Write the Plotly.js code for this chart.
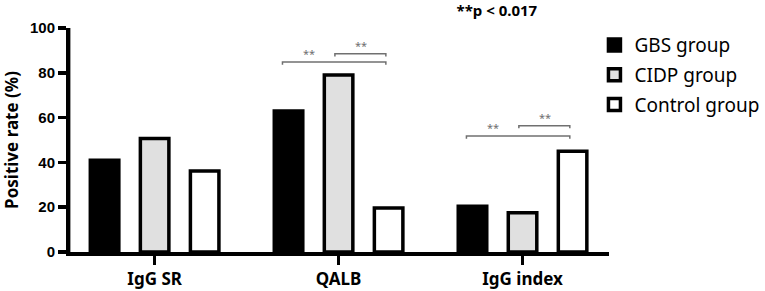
<!DOCTYPE html>
<html>
<head>
<meta charset="utf-8">
<script src="https://cdn.plot.ly/plotly-3.0.1.min.js"></script>
<style>
  html, body { margin: 0; padding: 0; background: #ffffff; }
  #chart { width: 765px; height: 291px; }
</style>
</head>
<body>
<div id="chart"></div>
<script>
// ---- data ----
const categories = ['IgG SR', 'QALB', 'IgG index'];
const seriesNames = ['GBS group', 'CIDP group', 'Control group'];
const gbsValues = [41, 63, 20.4];
const cidpValues = [50.7, 79, 17.5];
const controlValues = [36.2, 19.6, 45];
const yTickValues = [0, 20, 40, 60, 80, 100];
const yTickLabels = ['0', '20', '40', '60', '80', '100'];
const pNote = '**p &lt; 0.017';
// significance comparisons: category, level (y in %), label
const sigCategory = ['QALB', 'QALB', 'IgG index', 'IgG index'];
const sigLevel = [84.8, 88.5, 51.8, 56.4];
const sigLabel = ['**', '**', '**', '**'];
const sigKind = ['long', 'short', 'long', 'short'];

// ---- styles ----
const fillColors = ['#000000', '#e0e0e0', '#ffffff'];
const seriesValues = [gbsValues, cidpValues, controlValues];
const bracketSpan = { long: [-0.305, 0.257], short: [-0.02, 0.257] };
const labelOffset = { long: -0.16, short: 0.12 };
const bracketDrop = 1.2;
const grey = '#707070';

const traces = seriesNames.map((name, i) => ({
  type: 'bar',
  name: name,
  legendgroup: 'g' + i,
  x: categories,
  y: seriesValues[i],
  marker: { color: fillColors[i], line: { color: '#000000', width: 3.5 } },
  hoverinfo: 'x+y+name'
}));

const shapes = [
  // reinforce the left axis spine
  { type: 'line', xref: 'paper', yref: 'paper', x0: -0.003, x1: -0.003, y0: -0.008, y1: 1,
    line: { color: '#000000', width: 4 }, layer: 'above' }
];
const annotations = [];
sigCategory.forEach((cat, i) => {
  const c = categories.indexOf(cat);
  const span = bracketSpan[sigKind[i]];
  const x0 = c + span[0], x1 = c + span[1], y = sigLevel[i];
  shapes.push({
    type: 'path', xref: 'x', yref: 'y',
    path: `M ${x0} ${y - bracketDrop} L ${x0} ${y} L ${x1} ${y} L ${x1} ${y - bracketDrop}`,
    line: { color: grey, width: 1.5 }
  });
  annotations.push({
    xref: 'x', yref: 'y', x: c + labelOffset[sigKind[i]], y: y,
    text: sigLabel[i], showarrow: false, yanchor: 'bottom', yshift: -1,
    font: { family: 'Noto Sans, sans-serif', size: 11, color: grey }
  });
});

const layout = {
  width: 765, height: 291,
  margin: { l: 70, r: 156, t: 28, b: 39, autoexpand: false },
  paper_bgcolor: '#ffffff', plot_bgcolor: '#ffffff',
  showlegend: true,
  title: {
    text: pNote, xref: 'paper', x: 0.792, xanchor: 'center',
    yref: 'container', y: 0.962, yanchor: 'middle',
    font: { family: 'Noto Sans, sans-serif', size: 15, weight: 'bold', color: '#000000' }
  },
  barmode: 'group', bargap: 0.184, bargroupgap: 0.43,
  xaxis: {
    type: 'category', range: [-0.46, 2.47],
    showline: true, linecolor: '#000000', linewidth: 4,
    ticks: 'outside', ticklen: 9, tickwidth: 3, tickcolor: '#000000',
    showgrid: false, zeroline: false, fixedrange: true, automargin: false,
    tickfont: { family: 'Noto Sans, sans-serif', size: 17, weight: 'bold', color: '#000000' }
  },
  yaxis: {
    range: [0, 100],
    tickvals: yTickValues, ticktext: yTickLabels,
    showline: true, linecolor: '#000000', linewidth: 4,
    ticks: 'outside', ticklen: 8, tickwidth: 3.5, tickcolor: '#000000',
    showgrid: false, zeroline: false, fixedrange: true, automargin: false,
    tickfont: { family: 'Liberation Sans, Arial, sans-serif', size: 15, weight: 'bold', color: '#000000' },
    title: {
      text: 'Positive rate (%)', standoff: 10,
      font: { family: 'Noto Sans, sans-serif', size: 17, weight: 'bold', color: '#000000' }
    }
  },
  legend: {
    x: 0.973, xanchor: 'left', xref: 'paper',
    y: 1.008, yanchor: 'top', yref: 'paper',
    font: { family: 'Noto Sans, sans-serif', size: 19, color: '#000000' },
    bgcolor: 'rgba(0,0,0,0)', borderwidth: 0,
    traceorder: 'grouped', tracegroupgap: 2, itemclick: false
  },
  shapes: shapes,
  annotations: annotations
};

Plotly.newPlot('chart', traces, layout, { displayModeBar: false, staticPlot: true });
</script>
</body>
</html>
